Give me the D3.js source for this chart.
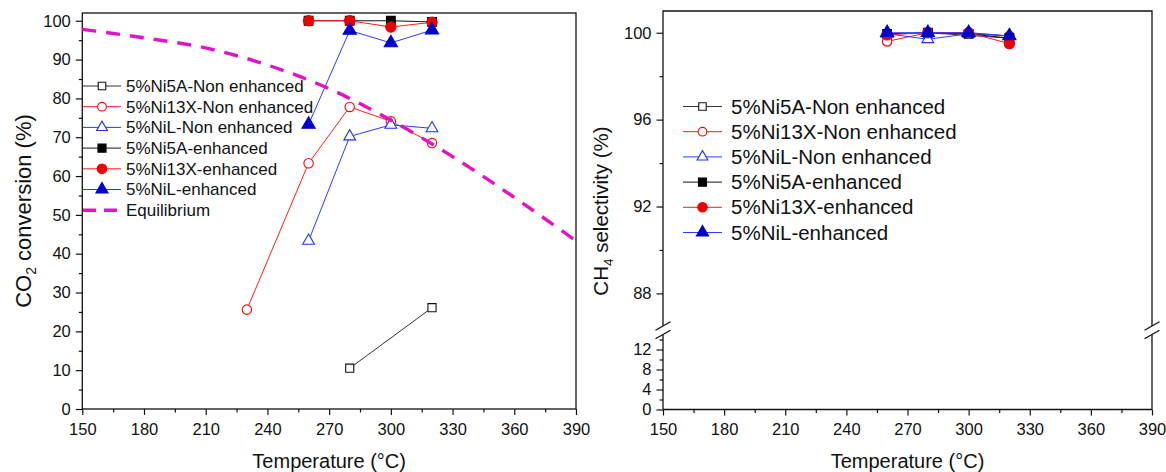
<!DOCTYPE html>
<html>
<head>
<meta charset="utf-8">
<script src="https://cdn.jsdelivr.net/npm/d3@7"></script>
<style>
  html, body { margin: 0; padding: 0; background: #fff; }
  svg { display: block; }
  text { font-family: "Liberation Sans", Arial, Helvetica, sans-serif; fill: #111; }
</style>
</head>
<body>
<div id="chart"></div>
<script>
// ---- data ----
const tempsNi5ANon = [280, 320];
const tempsNi13XNon = [230, 260, 280, 300, 320];
const tempsRun = [260, 280, 300, 320];

// CO2 conversion (%)
const convNi5ANon = [10.5, 26.1];
const convNi13XNon = [25.6, 63.3, 77.8, 74.1, 68.5];
const convNiLNon = [43.3, 70.2, 73.2, 72.3];
const convNi5AEnh = [100, 100, 100, 99.7];
const convNi13XEnh = [100, 100, 98.4, 99.6];
const convNiLEnh = [73.3, 97.5, 94.3, 97.6];

// thermodynamic equilibrium conversion
const eqTemps = [150, 180, 210, 240, 270, 300, 330, 360, 390];
const eqConv = [97.8, 95.6, 93.0, 88.6, 82.5, 74.4, 65.0, 54.5, 43.3];

// CH4 selectivity (%)
const selNi5ANon = [100, 99.75];
const selNi13XNon = [99.6, 100, 100, 99.85];
const selNiLNon = [99.95, 99.7, 99.95, 99.85];
const selNi5AEnh = [99.95, 100, 99.95, 99.75];
const selNi13XEnh = [99.9, 100, 100, 99.5];
const selNiLEnh = [100, 100, 100, 99.85];

const seriesNames = [
  "5%Ni5A-Non enhanced", "5%Ni13X-Non enhanced", "5%NiL-Non enhanced",
  "5%Ni5A-enhanced", "5%Ni13X-enhanced", "5%NiL-enhanced"
];
const eqName = "Equilibrium";

const xTicks = [150, 180, 210, 240, 270, 300, 330, 360, 390];
const xMinor = [165, 195, 225, 255, 285, 315, 345, 375];
const convTicks = [0, 10, 20, 30, 40, 50, 60, 70, 80, 90, 100];
const convMinor = [5, 15, 25, 35, 45, 55, 65, 75, 85, 95];
const selTicksLow = [0, 4, 8, 12];
const selMinorLow = [2, 6, 10, 14];
const selTicksUp = [88, 92, 96, 100];
const selMinorUp = [90, 94, 98];

// ---- styles per series ----
const styles = [
  { line: "#333333", stroke: "#111111", fill: "#ffffff", sym: d3.symbolSquare, size: 66 },
  { line: "#ff1a1a", stroke: "#ff0000", fill: "#ffffff", sym: d3.symbolCircle, size: 70 },
  { line: "#2b3bff", stroke: "#1f2fff", fill: "#ffffff", sym: d3.symbolTriangle, size: 60 },
  { line: "#111111", stroke: "#000000", fill: "#000000", sym: d3.symbolSquare, size: 76 },
  { line: "#ff1a1a", stroke: "#ee0000", fill: "#ee0000", sym: d3.symbolCircle, size: 84 },
  { line: "#2b3bff", stroke: "#0000c8", fill: "#0000c8", sym: d3.symbolTriangle, size: 76 }
];
const eqColor = "#e312c4";

const convSeries = [
  { x: tempsNi5ANon, y: convNi5ANon },
  { x: tempsNi13XNon, y: convNi13XNon },
  { x: tempsRun, y: convNiLNon },
  { x: tempsRun, y: convNi5AEnh },
  { x: tempsRun, y: convNi13XEnh },
  { x: tempsRun, y: convNiLEnh }
];
const selSeries = [
  { x: tempsNi5ANon, y: selNi5ANon },
  { x: tempsRun, y: selNi13XNon },
  { x: tempsRun, y: selNiLNon },
  { x: tempsRun, y: selNi5AEnh },
  { x: tempsRun, y: selNi13XEnh },
  { x: tempsRun, y: selNiLEnh }
];

const W = 1166, H = 472;
const svg = d3.select("#chart").append("svg").attr("width", W).attr("height", H);

const FONT = '"Liberation Sans", Arial, Helvetica, sans-serif';
function styleAxis(g, size) {
  g.attr("font-family", FONT).attr("font-size", size);
  g.selectAll("text").attr("fill", "#111");
  g.selectAll("line").attr("stroke", "#111").attr("stroke-width", 1.2);
  g.select(".domain").remove();
}

function drawSeries(g, x, y, list) {
  list.forEach((s, i) => {
    const st = styles[i];
    const pts = s.x.map((t, k) => [x(t), y(s.y[k])]);
    g.append("path")
      .attr("d", d3.line()(pts))
      .attr("fill", "none")
      .attr("stroke", st.line)
      .attr("stroke-width", 1);
    g.selectAll(null).data(pts).enter().append("path")
      .attr("transform", d => `translate(${d[0]},${d[1]})`)
      .attr("d", d3.symbol().type(st.sym).size(st.size))
      .attr("fill", st.fill)
      .attr("stroke", st.stroke)
      .attr("stroke-width", 1.1);
  });
}

function legendRow(g, x0, x1, tx, y, i, label, fs) {
  const st = styles[i];
  g.append("line").attr("x1", x0).attr("x2", x1).attr("y1", y).attr("y2", y)
    .attr("stroke", st.line).attr("stroke-width", 1);
  g.append("path").attr("transform", `translate(${(x0 + x1) / 2},${y})`)
    .attr("d", d3.symbol().type(st.sym).size(st.size * 0.85))
    .attr("fill", st.fill).attr("stroke", st.stroke).attr("stroke-width", 1.1);
  g.append("text").attr("x", tx).attr("y", y).attr("dy", "0.35em")
    .attr("font-size", fs).text(label);
}

// ================= left panel: CO2 conversion =================
const xL = d3.scaleLinear().domain([150, 390]).range([82.3, 576]);
const yL = d3.scaleLinear().domain([0, 102]).range([409, 13]);
const left = svg.append("g");

left.append("g").attr("transform", `translate(0,${yL(0)})`)
  .call(d3.axisBottom(xL).tickValues(xTicks).tickSize(6).tickPadding(8).tickSizeOuter(0))
  .call(g => styleAxis(g, 16.5));
left.append("g").attr("transform", `translate(0,${yL(0)})`)
  .call(d3.axisBottom(xL).tickValues(xMinor).tickSize(3.5).tickFormat("").tickSizeOuter(0))
  .call(g => styleAxis(g, 16));
left.append("g").attr("transform", `translate(${xL(150)},0)`)
  .call(d3.axisLeft(yL).tickValues(convTicks).tickSize(6.5).tickPadding(5).tickSizeOuter(0))
  .call(g => styleAxis(g, 16.5));
left.append("g").attr("transform", `translate(${xL(150)},0)`)
  .call(d3.axisLeft(yL).tickValues(convMinor).tickSize(3.5).tickFormat("").tickSizeOuter(0))
  .call(g => styleAxis(g, 16));

left.append("rect")
  .attr("x", xL(150)).attr("y", yL(102))
  .attr("width", xL(390) - xL(150)).attr("height", yL(0) - yL(102))
  .attr("fill", "none").attr("stroke", "#111").attr("stroke-width", 1.3);

drawSeries(left, xL, yL, convSeries);

left.append("path")
  .attr("d", d3.line().curve(d3.curveMonotoneX)(eqTemps.map((t, k) => [xL(t), yL(eqConv[k])])))
  .attr("fill", "none").attr("stroke", eqColor).attr("stroke-width", 3.4)
  .attr("stroke-dasharray", "14 10");

// legend
const legL = left.append("g");
seriesNames.forEach((n, i) => legendRow(legL, 83, 121, 126, 86 + i * 20.7, i, n, 17));
const eqY = 86 + 6 * 20.7;
legL.append("line").attr("x1", 83).attr("x2", 121).attr("y1", eqY).attr("y2", eqY)
  .attr("stroke", eqColor).attr("stroke-width", 3.4).attr("stroke-dasharray", "13 8");
legL.append("text").attr("x", 126).attr("y", eqY).attr("dy", "0.35em")
  .attr("font-size", 17).text(eqName);

// titles
left.append("text").attr("x", (xL(150) + xL(390)) / 2).attr("y", 468)
  .attr("text-anchor", "middle").attr("font-size", 20).text("Temperature (°C)");
const yTitleL = left.append("text")
  .attr("transform", "translate(31,211) rotate(-90)")
  .attr("text-anchor", "middle").attr("font-size", 22);
yTitleL.append("tspan").text("CO");
yTitleL.append("tspan").attr("font-size", 14).attr("dy", 5).text("2");
yTitleL.append("tspan").attr("dy", -5).text(" conversion (%)");

// ================= right panel: CH4 selectivity (broken axis) =================
const xR = d3.scaleLinear().domain([150, 390]).range([663, 1152]);
const yLow = d3.scaleLinear().domain([0, 15]).range([409.5, 334.5]);
const yUp = d3.scaleLinear().domain([86.5, 101]).range([326, 11]);
const yR = v => (v < 50 ? yLow(v) : yUp(v));
const right = svg.append("g");

right.append("g").attr("transform", `translate(0,${yLow(0)})`)
  .call(d3.axisBottom(xR).tickValues(xTicks).tickSize(6).tickPadding(8).tickSizeOuter(0))
  .call(g => styleAxis(g, 16.5));
right.append("g").attr("transform", `translate(0,${yLow(0)})`)
  .call(d3.axisBottom(xR).tickValues(xMinor).tickSize(3.5).tickFormat("").tickSizeOuter(0))
  .call(g => styleAxis(g, 16));
[[yLow, selTicksLow, selMinorLow], [yUp, selTicksUp, selMinorUp]].forEach(([sc, maj, mi]) => {
  right.append("g").attr("transform", `translate(${xR(150)},0)`)
    .call(d3.axisLeft(sc).tickValues(maj).tickSize(6.5).tickPadding(5).tickSizeOuter(0))
    .call(g => styleAxis(g, 16.5));
  right.append("g").attr("transform", `translate(${xR(150)},0)`)
    .call(d3.axisLeft(sc).tickValues(mi).tickSize(3.5).tickFormat("").tickSizeOuter(0))
    .call(g => styleAxis(g, 16));
});

// frame with gaps at the axis break
const xa = xR(150), xb = xR(390);
const frame = d3.path();
frame.moveTo(xa, yLow(0)); frame.lineTo(xb, yLow(0));
frame.moveTo(xa, yLow(0)); frame.lineTo(xa, yLow(15));
frame.moveTo(xb, yLow(0)); frame.lineTo(xb, yLow(15));
frame.moveTo(xa, yUp(86.5)); frame.lineTo(xa, yUp(101)); frame.lineTo(xb, yUp(101)); frame.lineTo(xb, yUp(86.5));
right.append("path").attr("d", frame.toString())
  .attr("fill", "none").attr("stroke", "#111").attr("stroke-width", 1.3);

// break marks
const brk = d3.path();
[xa, xb].forEach(xx => {
  [yUp(86.5), yLow(15)].forEach(yy => {
    brk.moveTo(xx - 7.5, yy + 4.2); brk.lineTo(xx + 7.5, yy - 4.2);
  });
});
right.append("path").attr("d", brk.toString())
  .attr("fill", "none").attr("stroke", "#111").attr("stroke-width", 1.3);

drawSeries(right, xR, yR, selSeries);

const legR = right.append("g");
seriesNames.forEach((n, i) => legendRow(legR, 683, 722, 731, 106.5 + i * 25.2, i, n, 20.5));

right.append("text").attr("x", (xa + xb) / 2).attr("y", 468)
  .attr("text-anchor", "middle").attr("font-size", 20).text("Temperature (°C)");
const yTitleR = right.append("text")
  .attr("transform", "translate(608,211) rotate(-90)")
  .attr("text-anchor", "middle").attr("font-size", 20.5);
yTitleR.append("tspan").text("CH");
yTitleR.append("tspan").attr("font-size", 13.5).attr("dy", 5).text("4");
yTitleR.append("tspan").attr("dy", -5).text(" selectivity (%)");
</script>
</body>
</html>
